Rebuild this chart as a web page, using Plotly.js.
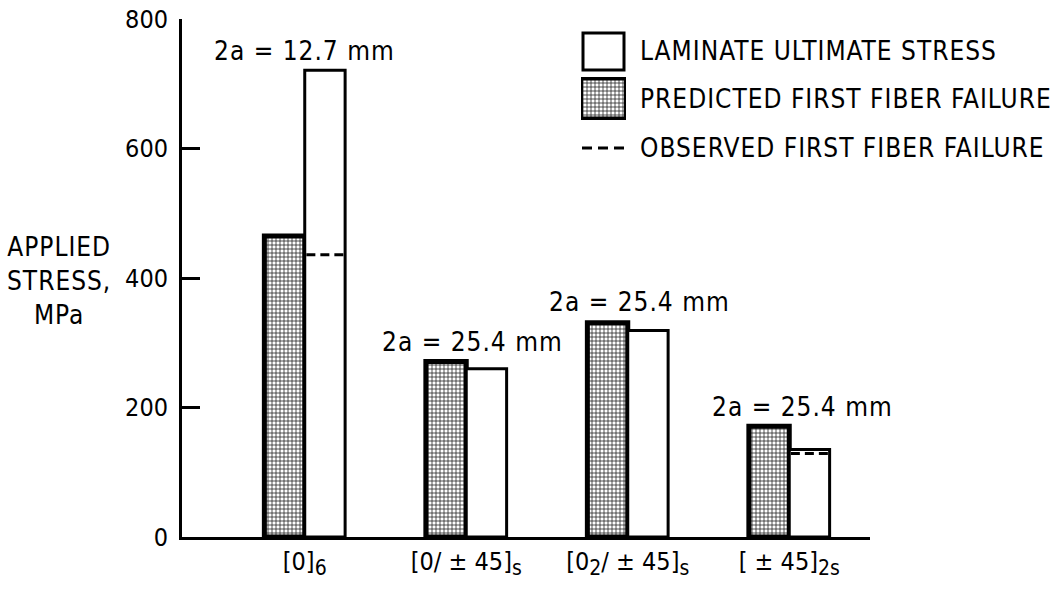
<!DOCTYPE html>
<html><head><meta charset="utf-8">
<script src="https://cdn.plot.ly/plotly-3.0.1.min.js"></script>
<style>body{margin:0;background:#fff}#c{width:1059px;height:592px}</style>
</head><body><div id="c"></div>
<script>
const categories = ["[0]<sub>6</sub>", "[0/ ± 45]<sub>s</sub>", "[0<sub>2</sub>/ ± 45]<sub>s</sub>", "[ ± 45]<sub>2s</sub>"];
const predicted = [465, 271, 331, 171];
const ultimate = [721, 260, 319, 135];
const observed = [436, null, null, 129];
const crackLabels = ["2a = 12.7 mm", "2a = 25.4 mm", "2a = 25.4 mm", "2a = 25.4 mm"];
const seriesNames = ["LAMINATE ULTIMATE STRESS", "PREDICTED FIRST FIBER FAILURE", "OBSERVED FIRST FIBER FAILURE"];
const yTicks = [0, 200, 400, 600, 800];

const FONT = "'Liberation Sans Narrow', 'DejaVu Sans Condensed', 'Arial Narrow', sans-serif";
const sp = (t) => "<span style='letter-spacing:1px'>" + t + "</span>";
const bigSub = (t) => t.replace(/<sub>(.*?)<\/sub>/g, "<sub><span style='font-size:21px'>$1</span></sub>");
const idx = categories.map((_, i) => i);
const barW = 0.25;
const pattern = {shape: '+', fgcolor: '#222', bgcolor: '#fff', size: 4, solidity: 0.35};

const obsX = [], obsY = [];
observed.forEach((v, i) => { if (v != null) { obsX.push(i + 0.01, i + barW - 0.005, null); obsY.push(v, v, null); } });

const traces = [
  {type: 'bar', x: idx, y: predicted, name: seriesNames[1], width: barW, offset: -barW,
   marker: {color: '#fff', pattern: pattern, line: {color: '#000', width: 5}}, hoverinfo: 'skip'},
  {type: 'bar', x: idx, y: ultimate, name: seriesNames[0], width: barW, offset: 0,
   marker: {color: '#fff', line: {color: '#000', width: 3}}, hoverinfo: 'skip'},
  {type: 'scatter', mode: 'lines', x: obsX, y: obsY, name: seriesNames[2],
   line: {color: '#000', width: 3, dash: '9px,5px'}, hoverinfo: 'skip'},
  // legend key swatch for predicted (pattern)
  {type: 'bar', x: [0], y: [1], xaxis: 'x2', yaxis: 'y2', width: 1,
   marker: {color: '#fff', pattern: pattern, line: {color: '#000', width: 4}}, hoverinfo: 'skip'}
];

const px = (p) => (p - 182) / 688;
const py = (p) => (537 - p) / 518;

const annotations = [
  {x: 0, y: 750, text: sp(crackLabels[0])},
  {x: 1.04, y: 301, text: sp(crackLabels[1])},
  {x: 2.07, y: 363, text: sp(crackLabels[2])},
  {x: 3.08, y: 201, text: sp(crackLabels[3])}
].map(a => Object.assign(a, {xref: 'x', yref: 'y', showarrow: false, xanchor: 'center', yanchor: 'middle',
  font: {family: FONT, size: 26, color: '#000'}}));

annotations.push({xref: 'paper', yref: 'paper', x: px(59), y: py(281), xanchor: 'center', yanchor: 'middle', align: 'center',
  showarrow: false, text: sp('APPLIED') + '<br>' + sp('STRESS,') + '<br>' + sp('MPa'),
  font: {family: FONT, size: 26, color: '#000'}});

[[51, seriesNames[0]], [99, seriesNames[1]], [148, seriesNames[2]]].forEach(([yy, t]) => {
  annotations.push({xref: 'paper', yref: 'paper', x: px(638), y: py(yy), xanchor: 'left', yanchor: 'middle',
    showarrow: false, text: sp(t), font: {family: FONT, size: 26, color: '#000'}});
});

const shapes = [
  {type: 'rect', xref: 'paper', yref: 'paper', x0: px(583), x1: px(624), y0: py(70), y1: py(33),
   line: {color: '#000', width: 3}, fillcolor: '#fff'},
  {type: 'line', xref: 'paper', yref: 'paper', x0: px(582), x1: px(625), y0: py(148), y1: py(148),
   line: {color: '#000', width: 3, dash: '10px,6px'}}
];

const layout = {
  width: 1059, height: 592,
  margin: {l: 182, r: 189, t: 19, b: 55},
  paper_bgcolor: '#fff', plot_bgcolor: '#fff',
  showlegend: false,
  barmode: 'overlay',
  font: {family: FONT, size: 24, color: '#000'},
  xaxis: {range: [-0.76, 3.5], tickvals: idx, ticktext: categories.map(bigSub), showgrid: false, zeroline: false,
    showline: true, linewidth: 3, linecolor: '#000', ticks: '', tickfont: {family: FONT, size: 25},
    fixedrange: true},
  yaxis: {range: [0, 800], tickvals: yTicks, showgrid: false, zeroline: false, showline: true,
    linewidth: 3, linecolor: '#000', ticks: 'inside', ticklen: 18, tickwidth: 3, tickcolor: '#000',
    ticklabelstandoff: 6, tickfont: {family: FONT, size: 25}, fixedrange: true},
  xaxis2: {domain: [px(581), px(626)], range: [-0.5, 0.5], visible: false, anchor: 'y2', fixedrange: true},
  yaxis2: {domain: [py(120), py(77)], range: [-0.04, 1.04], visible: false, anchor: 'x2', fixedrange: true},
  annotations: annotations,
  shapes: shapes
};

Plotly.newPlot('c', traces, layout, {displayModeBar: false, staticPlot: true});
</script></body></html>
